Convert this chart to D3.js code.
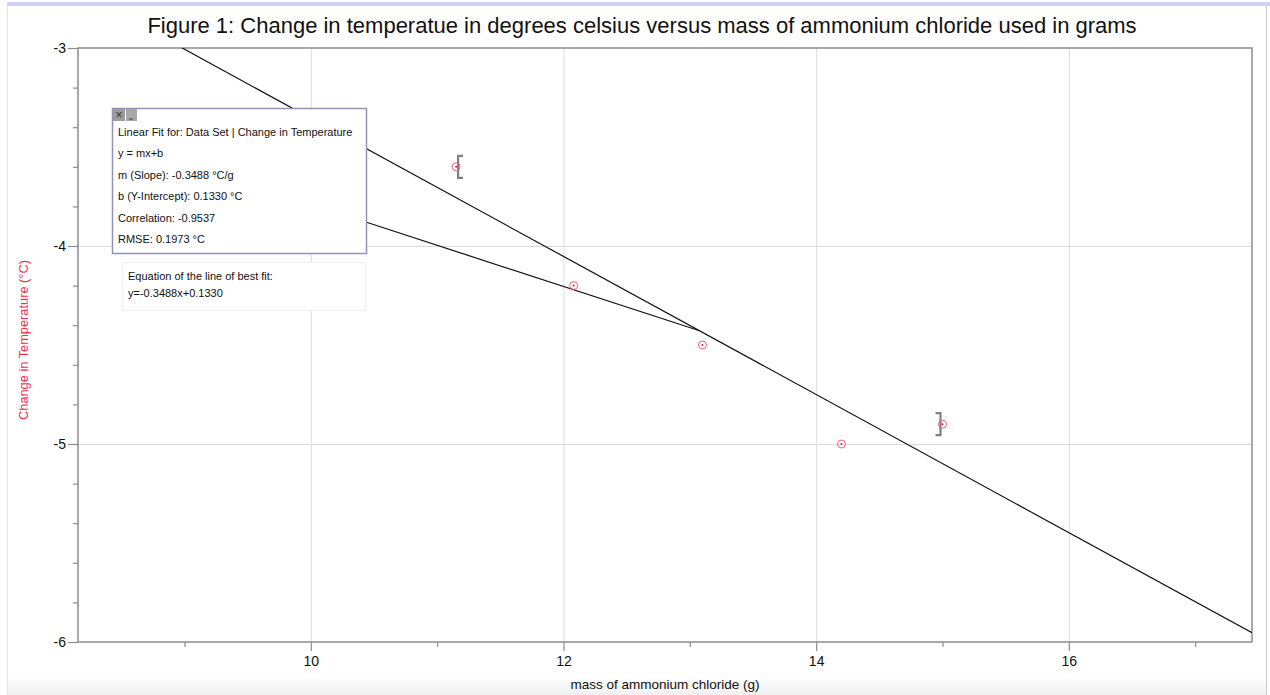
<!DOCTYPE html>
<html lang="en">
<head>
<meta charset="utf-8">
<title>ammonium chloride</title>
<script src="https://cdn.jsdelivr.net/npm/d3@7/dist/d3.min.js"></script>
<style>
  body { margin:0; background:#fff; }
  svg { font-family: "Liberation Sans", Arial, sans-serif; }
</style>
</head>
<body>
<div id="chart"></div>
<script>
// data
var mass = [11.15, 12.08, 13.1, 14.2, 15.0]
var dtemp = [-3.6, -4.2, -4.5, -5.0, -4.9]
var fitSlope = -0.3488
var fitIntercept = 0.1330
var xTicks = [10, 12, 14, 16]
var yTicks = [-3, -4, -5, -6]
var xMinor = [9, 11, 13, 15, 17]
var fitLines = ["Linear Fit for: Data Set | Change in Temperature", "y = mx+b",
  "m (Slope): -0.3488 \u00B0C/g", "b (Y-Intercept): 0.1330 \u00B0C", "Correlation: -0.9537", "RMSE: 0.1973 \u00B0C"]
var eqLines = ["Equation of the line of best fit:", "y=-0.3488x+0.1330"]
// range brackets [start, end] of the fit selection
var bracketX = [11.15, 15.0]
var bracketY = [-3.6, -4.9]
// connector from the fit box to the line
var connector = [[10.435, -3.879], [13.077, fitSlope*13.077+fitIntercept]]

var W = 1270, H = 695
var pL = 78, pR = 1252, pT = 48, pB = 642

var svg = d3.select("#chart").append("svg").attr("width", W).attr("height", H)

// page frame bits
var g0 = svg.append("defs").append("linearGradient").attr("id","fade").attr("x1",0).attr("y1",0).attr("x2",0).attr("y2",1)
g0.append("stop").attr("offset","0").attr("stop-color","#fff")
g0.append("stop").attr("offset","1").attr("stop-color","#f0f0f0")
svg.append("rect").attr("x",7).attr("y",676).attr("width",1260).attr("height",19).attr("fill","url(#fade)")
svg.append("rect").attr("x",7).attr("y",2).attr("width",1263).attr("height",4).attr("fill","#d0d0f4")
svg.append("line").attr("x1",7.5).attr("x2",7.5).attr("y1",6).attr("y2",H).attr("stroke","#e4e4e4")
svg.append("line").attr("x1",1266.5).attr("x2",1266.5).attr("y1",6).attr("y2",H).attr("stroke","#c8c8c8")

var x = d3.scaleLinear().domain([8.157, 17.45]).range([pL, pR])
var y = d3.scaleLinear().domain([-3, -6]).range([pT, pB])

svg.append("text").attr("x", 642).attr("y", 33).attr("text-anchor","middle")
  .style("font-size","22px").attr("fill","#111")
  .text("Figure 1: Change in temperatue in degrees celsius versus mass of ammonium chloride used in grams")

// grid
svg.selectAll(".vg").data(xTicks).enter().append("line")
  .attr("x1", d => x(d)+0.5).attr("x2", d => x(d)+0.5).attr("y1", pT).attr("y2", pB)
  .attr("stroke","#dcdcdc")
svg.selectAll(".hg").data([-4, -5]).enter().append("line")
  .attr("y1", d => y(d)+0.5).attr("y2", d => y(d)+0.5).attr("x1", pL).attr("x2", pR)
  .attr("stroke","#dcdcdc")

// axes
var fmt = d => String(d)
var xAxis = svg.append("g").attr("transform","translate(0,"+pB+")")
  .call(d3.axisBottom(x).tickValues(xTicks).tickSize(9).tickPadding(5).tickFormat(fmt))
var xMin = svg.append("g").attr("transform","translate(0,"+pB+")")
  .call(d3.axisBottom(x).tickValues(xMinor).tickSize(5).tickFormat(""))
var yAxis = svg.append("g").attr("transform","translate("+pL+",0)")
  .call(d3.axisLeft(y).tickValues(yTicks).tickSize(10).tickPadding(2).tickFormat(fmt))
var yMinorVals = d3.range(-30, -60, -2).map(d => d/10).filter(d => yTicks.indexOf(d) < 0)
var yMin = svg.append("g").attr("transform","translate("+pL+",0)")
  .call(d3.axisLeft(y).tickValues(yMinorVals).tickSize(5).tickFormat(""))
;[xAxis, xMin, yAxis, yMin].forEach(function(a){
  a.select(".domain").remove()
  a.selectAll("line").attr("stroke","#8c8c8c").attr("stroke-width",1.2)
  a.selectAll("text").style("font-size","14px").attr("fill","#111")
})
svg.append("rect").attr("x",pL).attr("y",pT).attr("width",pR-pL).attr("height",pB-pT)
  .attr("fill","none").attr("stroke","#8c8c8c").attr("stroke-width",1.5)

// axis labels
svg.append("text").attr("x", 665).attr("y", 689).attr("text-anchor","middle")
  .style("font-size","13.5px").attr("fill","#111").text("mass of ammonium chloride (g)")
svg.append("text").attr("transform","translate(28,340) rotate(-90)").attr("text-anchor","middle")
  .style("font-size","12.8px").attr("fill","#f0304f").text("Change in Temperature (\u00B0C)")

svg.append("clipPath").attr("id","clip").append("rect")
  .attr("x",pL).attr("y",pT).attr("width",pR-pL).attr("height",pB-pT)
var plot = svg.append("g").attr("clip-path","url(#clip)")

// fit line
var xs = x.domain()
var fy = d => fitSlope*d + fitIntercept
plot.append("line").attr("x1", x(xs[0])).attr("y1", y(fy(xs[0]))).attr("x2", x(xs[1])).attr("y2", y(fy(xs[1])))
  .attr("stroke","#111").attr("stroke-width",1.2)
plot.append("line").attr("x1", x(connector[0][0])).attr("y1", y(connector[0][1]))
  .attr("x2", x(connector[1][0])).attr("y2", y(connector[1][1]))
  .attr("stroke","#111").attr("stroke-width",1.2)

// brackets
function bracket(px, py, dir){
  var h = 11, w = 5
  var path = d3.path()
  path.moveTo(px + 2 + dir*w, py - h)
  path.lineTo(px + 2, py - h)
  path.lineTo(px + 2, py + h)
  path.lineTo(px + 2 + dir*w, py + h)
  plot.append("path").attr("d", path.toString()).attr("fill","none").attr("stroke","#808080").attr("stroke-width",2.2)
}
bracket(x(bracketX[0]), y(bracketY[0]), 1)
bracket(x(bracketX[1]) - 4, y(bracketY[1]), -1)

// points
var pts = plot.selectAll(".pt").data(mass).enter().append("g")
  .attr("transform", (d,i) => "translate("+x(d)+","+y(dtemp[i])+")")
pts.append("circle").attr("r",4).attr("fill","none").attr("stroke","#ff5a78").attr("stroke-width",1)
pts.append("circle").attr("r",1).attr("fill","#d02040")

// fit info box
var bx = 112, by = 108, bw = 254, bh = 145
svg.append("rect").attr("x",bx+0.5).attr("y",by+0.5).attr("width",bw).attr("height",bh)
  .attr("fill","#fff").attr("stroke","#8f93b8").attr("stroke-width",1.5)
svg.append("rect").attr("x",bx+1).attr("y",by+1).attr("width",12).attr("height",12).attr("fill","#9a9a9a")
svg.append("text").attr("x",bx+7).attr("y",by+11).attr("text-anchor","middle").style("font-size","12px").attr("fill","#333").text("\u00D7")
svg.append("rect").attr("x",bx+14).attr("y",by+1).attr("width",11).attr("height",12).attr("fill","#a8a8a8")
svg.append("line").attr("x1",bx+17).attr("x2",bx+21).attr("y1",by+11).attr("y2",by+11).attr("stroke","#444")
svg.selectAll(".fl").data(fitLines).enter().append("text")
  .attr("x", bx+6).attr("y", (d,i) => 136 + i*21.4)
  .style("font-size","11px").attr("fill","#111").text(d => d)

// equation box
svg.append("rect").attr("x",122.5).attr("y",262.5).attr("width",243).attr("height",48)
  .attr("fill","#fff").attr("stroke","#f0f0f0")
svg.selectAll(".el").data(eqLines).enter().append("text")
  .attr("x", 128).attr("y", (d,i) => 280 + i*17)
  .style("font-size","11px").attr("fill","#111").text(d => d)
</script>
</body>
</html>
